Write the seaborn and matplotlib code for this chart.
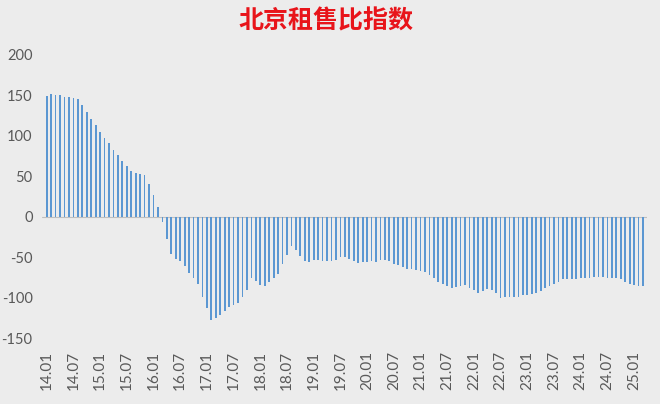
import matplotlib
matplotlib.use("Agg")
import matplotlib.pyplot as plt
import seaborn as sns
import pandas as pd

# --- 数据 ---
# 月份：2014.01 - 2025.03
months = [f"{y % 100:02d}.{m:02d}" for y in range(2014, 2026) for m in range(1, 13)][:135]

ratio_index = [
    # 2014 - 2016.02
    149, 152, 151, 150, 148, 148, 147, 145, 138, 130, 121, 113,
    105, 97, 91, 83, 76, 69, 63, 56, 54, 53, 52, 40,
    27, 12,
    # 2016.03 - 2018.05
    -6, -27, -46, -52, -55, -61, -69, -76, -83, -99,
    -113, -128, -125, -121, -116, -112, -109, -107, -99, -90, -76, -79,
    -84, -85, -81, -76, -71,
    # 2018.06 - 2020.08
    -58, -47, -36, -41, -48, -55, -56,
    -54, -54, -55, -55, -55, -53, -50, -50, -52, -55, -57, -56,
    -56, -55, -56, -54, -53, -55, -58, -60,
    # 2020.09 - 2022.11
    -62, -65, -65, -66,
    -67, -68, -72, -76, -80, -83, -86, -88, -87, -85, -84, -88,
    -91, -94, -92, -89, -90, -94, -100, -99, -99, -99, -99,
    # 2022.12 - 2025.03
    -97,
    -97, -96, -94, -92, -88, -85, -83, -80, -77, -77, -77, -77,
    -76, -76, -76, -75, -75, -75, -76, -76, -76, -77, -80, -83,
    -84, -85, -85,
]

tick_labels = months[::6]
y_ticks = [-150, -100, -50, 0, 50, 100, 150, 200]

df = pd.DataFrame({"month": months, "value": ratio_index})

# --- 样式 ---
bg = "#ECECEC"
sns.set_theme(style="white")
plt.rcParams["font.family"] = ["Lato", "DejaVu Sans"]
plt.rcParams["axes.unicode_minus"] = False

fig = plt.figure(figsize=(6.6, 4.04), dpi=100, facecolor=bg)
ax = fig.add_axes([0.064, 0.163, 0.917, 0.701], facecolor=bg)

sns.barplot(data=df, x="month", y="value", order=months, color="#5B97D2",
            saturation=1, width=0.4, linewidth=0, ax=ax)

ax.axhline(0, color="#BFBFBF", lw=0.8, zorder=0.5)

ax.set_xlim(-1, len(months))
ax.set_ylim(-150, 200)
ax.set_yticks(y_ticks)
ax.set_yticklabels([str(v) for v in y_ticks], fontsize=10.5, color="#595959")
ax.set_xticks([months.index(t) for t in tick_labels])
ax.set_xticklabels(tick_labels, rotation=90, fontsize=11, color="#595959")
ax.tick_params(axis="y", length=0, pad=7)
ax.tick_params(axis="x", length=0, pad=9)
ax.set_xlabel("")
ax.set_ylabel("")
for s in ax.spines.values():
    s.set_visible(False)

fig.text(0.494, 0.946, "北京租售比指数", ha="center", va="center",
         fontsize=18, fontweight="bold", color="#E8141A",
         family=["Noto Sans CJK SC", "DejaVu Sans"])

fig.savefig("out.png", dpi=100, facecolor=bg)
